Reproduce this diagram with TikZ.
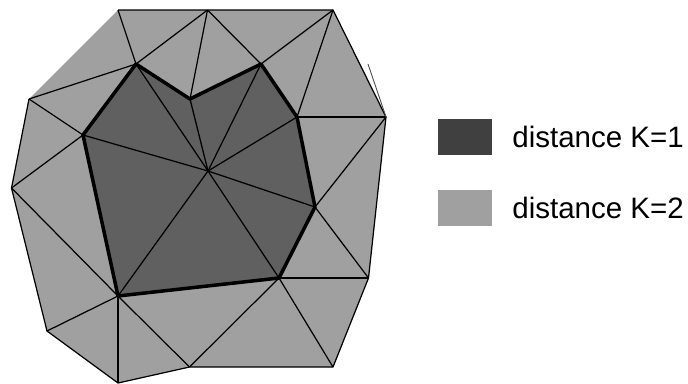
\documentclass[tikz,border=0pt]{standalone}
\usepackage{fontspec}
\setmainfont{Liberation Sans}
\definecolor{distone}{HTML}{606060}
\definecolor{distonekey}{HTML}{404040}
\definecolor{disttwo}{HTML}{A0A0A0}
\tikzset{
  meshline/.style={black, line width=0.7pt, line join=round},
  ringline/.style={black, line width=2pt, line join=round},
  keybox/.style={minimum width=1.08cm, minimum height=0.72cm, inner sep=0pt, draw=none},
  keytext/.style={anchor=base west, inner sep=0pt, font=\fontsize{16.8}{20}\selectfont}
}
\begin{document}
\begin{tikzpicture}[x=0.02cm,y=-0.02cm]
\useasboundingbox (0,0) rectangle (688,383);
% centre
\coordinate (c) at (208,171);
% inner ring
\coordinate (a) at (136,64);
\coordinate (b) at (190,99);
\coordinate (d) at (261,64);
\coordinate (e) at (297,117);
\coordinate (f) at (315,207);
\coordinate (g) at (279,278);
\coordinate (h) at (118,296);
\coordinate (i) at (83,135);
% outer ring
\coordinate (o1) at (118,10);
\coordinate (o2) at (207.5,10);
\coordinate (o3) at (333,10);
\coordinate (o4) at (386,117);
\coordinate (o5) at (368.5,278);
\coordinate (o6) at (333,367);
\coordinate (o7) at (189.5,367);
\coordinate (o8) at (118,383);
\coordinate (o9) at (47,331);
\coordinate (o10) at (11.5,188);
\coordinate (o11) at (29,99);
\coordinate (tick) at (368,64);
% fills
\fill[disttwo] (o1) -- (o2) -- (o3) -- (o4) -- (o5) -- (o6) -- (o7) -- (o8) -- (o9) -- (o10) -- (o11) -- cycle;
\fill[distone] (a) -- (b) -- (d) -- (e) -- (f) -- (g) -- (h) -- (i) -- cycle;
% spokes
\foreach \p in {a,b,d,e,f,g,h,i}
  \draw[meshline] (c) -- (\p);
% triangles between the rings
\foreach \p/\q in {o1/a,o2/a,o2/b,o2/d,o3/d,o3/e,o4/e,o4/f,o5/f,o5/g,o6/g,o7/g,o7/h,o8/h,o9/h,o10/h,o10/i,o11/i,o11/a}
  \draw[meshline] (\p) -- (\q);
% outer edge
\draw[meshline] (o11) -- (o10) -- (o9) -- (o8) -- (o7) -- (o6) -- (o5) -- (o4) -- (o3) -- (o2) -- (o1);
\draw[black!70, line width=0.5pt] (tick) -- (o4);
% inner ring edge
\draw[ringline] (a) -- (b) -- (d) -- (e) -- (f) -- (g) -- (h) -- (i) -- cycle;
% key
\node[keybox, fill=distonekey] (keyone) at (465,137) {};
\node[keybox, fill=disttwo] (keytwo) at (465,208) {};
\node[keytext] (labelone) at (512,147) {distance K=1};
\node[keytext] (labeltwo) at (512,218) {distance K=2};
\end{tikzpicture}
\end{document}
